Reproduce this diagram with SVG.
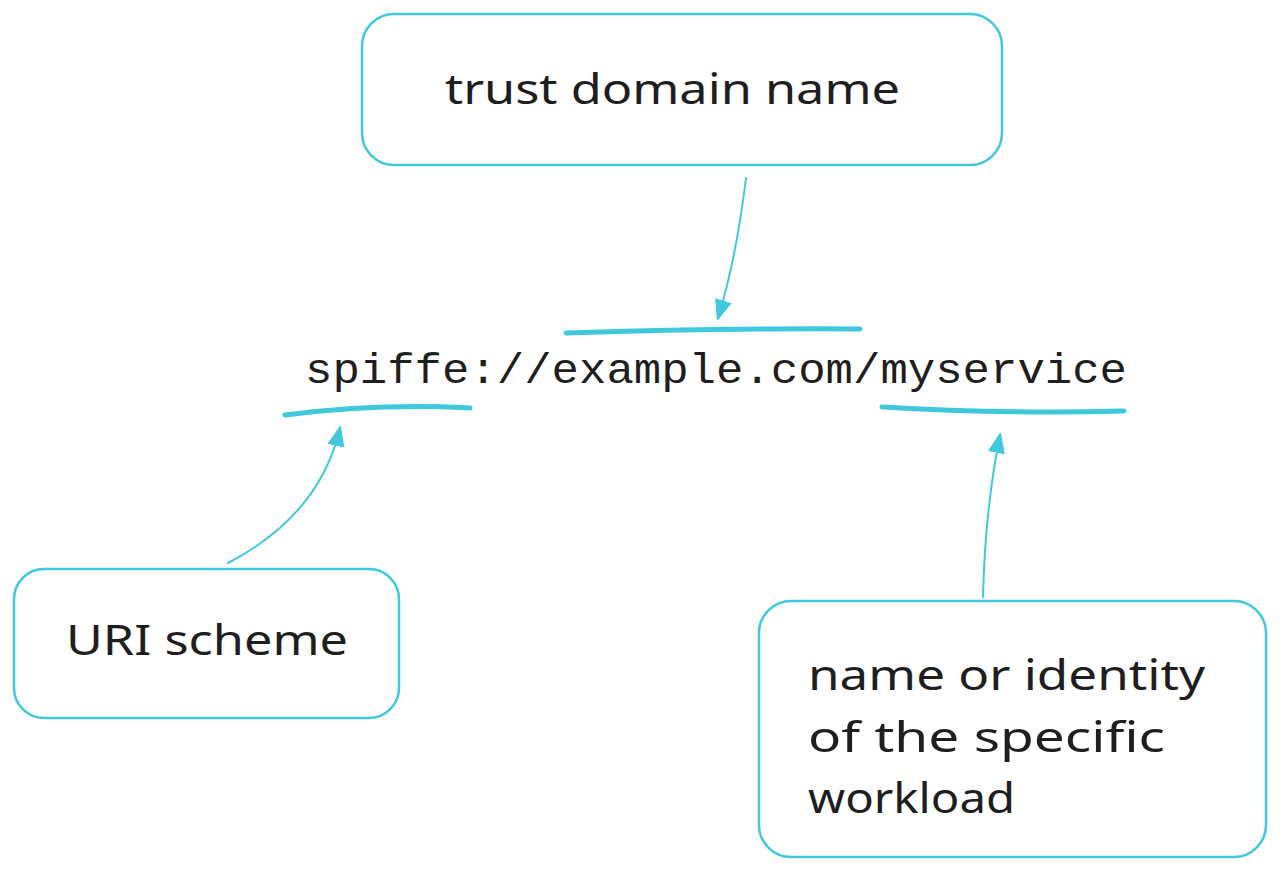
<svg xmlns="http://www.w3.org/2000/svg" width="1280" height="871" viewBox="0 0 1280 871">
<defs>
<style>
.box{fill:#fff;stroke:#40c8dc;stroke-width:2.5}
.ln{fill:none;stroke:#40c8dc;stroke-width:2;stroke-linecap:round}
.ul{fill:none;stroke:#40c8dc;stroke-width:5;stroke-linecap:round}
.t{font-family:"Comic Sans MS","Noto Sans",sans-serif;fill:#1e1e1e;font-size:42px}
.m{font-family:"Liberation Mono",monospace;fill:#1e1e1e;font-size:43px}
</style>
<marker id="ah" viewBox="0 0 20 20" refX="18" refY="10" markerWidth="20" markerHeight="20" markerUnits="userSpaceOnUse" orient="auto">
<path d="M0,2 L20,10 L0,18 Z" fill="#40c8dc" stroke="#40c8dc"/>
</marker>
</defs>
<rect width="1280" height="871" fill="#fff"/>
<g id="trust-domain">
<rect class="box" x="362" y="14" width="640" height="151" rx="32"/>
<text class="t" x="445" y="104" textLength="455" lengthAdjust="spacingAndGlyphs">trust domain name</text>
</g>
<g id="spiffe-uri">
<text class="m" x="305" y="383" textLength="822" lengthAdjust="spacingAndGlyphs">spiffe://example.com/myservice</text>
</g>
<g id="uri-scheme">
<rect class="box" x="14" y="569" width="385" height="149" rx="30"/>
<text class="t" x="66" y="655" textLength="282" lengthAdjust="spacingAndGlyphs">URI scheme</text>
</g>
<g id="workload">
<rect class="box" x="759" y="601" width="507" height="256" rx="32"/>
<text class="t" x="808" y="690" textLength="397" lengthAdjust="spacingAndGlyphs">name or identity</text>
<text class="t" x="808" y="752" textLength="357" lengthAdjust="spacingAndGlyphs">of the specific</text>
<text class="t" x="808" y="813" textLength="207" lengthAdjust="spacingAndGlyphs">workload</text>
</g>
<g id="connectors">
<path class="ul" d="M566,333 Q720,328 860,329"/>
<path class="ul" d="M285,415 Q380,403 470,408"/>
<path class="ul" d="M882,407 Q1000,414 1124,411"/>
<path class="ln" d="M746,178 Q736,260 718,318" marker-end="url(#ah)"/>
<path class="ln" d="M228,563 Q320,515 340,428" marker-end="url(#ah)"/>
<path class="ln" d="M983,597 Q985,510 1000,435" marker-end="url(#ah)"/>
</g>
</svg>
